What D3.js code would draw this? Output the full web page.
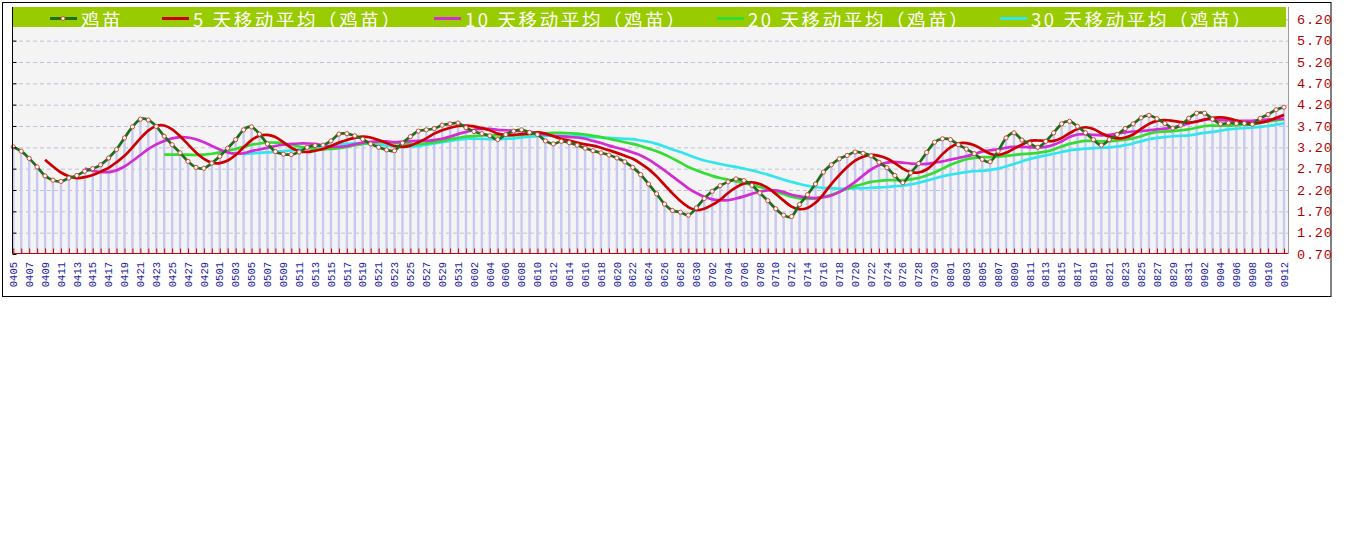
<!DOCTYPE html>
<html><head><meta charset="utf-8">
<script src="https://cdn.jsdelivr.net/npm/d3@7"></script>
<style>html,body{margin:0;padding:0;background:#fff;}svg{display:block;}</style>
</head><body>
<svg id="c" width="1345" height="541"></svg>
<script>
const dates = [
"0405","0406","0407","0408","0409","0410","0411","0412","0413","0414","0415","0416","0417","0418","0419","0420","0421","0422","0423","0424","0425","0426","0427","0428","0429","0430",
"0501","0502","0503","0504","0505","0506","0507","0508","0509","0510","0511","0512","0513","0514","0515","0516","0517","0518","0519","0520","0521","0522","0523","0524","0525","0526","0527","0528","0529","0530","0531",
"0601","0602","0603","0604","0605","0606","0607","0608","0609","0610","0611","0612","0613","0614","0615","0616","0617","0618","0619","0620","0621","0622","0623","0624","0625","0626","0627","0628","0629","0630",
"0701","0702","0703","0704","0705","0706","0707","0708","0709","0710","0711","0712","0713","0714","0715","0716","0717","0718","0719","0720","0721","0722","0723","0724","0725","0726","0727","0728","0729","0730","0731",
"0801","0802","0803","0804","0805","0806","0807","0808","0809","0810","0811","0812","0813","0814","0815","0816","0817","0818","0819","0820","0821","0822","0823","0824","0825","0826","0827","0828","0829","0830","0831",
"0901","0902","0903","0904","0905","0906","0907","0908","0909","0910","0911","0912"];

const price = [
3.21,3.11,2.94,2.74,2.53,2.43,2.40,2.48,2.54,2.64,
2.70,2.79,2.95,3.15,3.42,3.68,3.86,3.84,3.69,3.46,
3.26,3.07,2.87,2.73,2.71,2.83,2.99,3.18,3.38,3.61,
3.68,3.51,3.28,3.10,3.04,3.03,3.09,3.20,3.24,3.25,
3.35,3.51,3.52,3.47,3.39,3.28,3.20,3.14,3.12,3.30,
3.45,3.58,3.61,3.64,3.72,3.75,3.77,3.66,3.57,3.52,
3.47,3.38,3.50,3.58,3.61,3.55,3.50,3.35,3.28,3.34,
3.31,3.25,3.18,3.12,3.07,3.02,2.95,2.86,2.73,2.56,
2.34,2.11,1.87,1.72,1.68,1.61,1.78,2.00,2.17,2.30,
2.39,2.46,2.42,2.31,2.13,1.95,1.76,1.61,1.58,1.86,
2.09,2.34,2.62,2.79,2.93,3.01,3.09,3.06,3.00,2.85,
2.72,2.54,2.37,2.60,2.82,3.08,3.32,3.40,3.38,3.26,
3.16,3.05,2.92,2.86,3.11,3.42,3.54,3.37,3.29,3.20,
3.34,3.54,3.75,3.81,3.69,3.54,3.38,3.25,3.38,3.50,
3.64,3.75,3.89,3.95,3.87,3.76,3.65,3.72,3.88,4.00,
4.00,3.86,3.75,3.77,3.76,3.76,3.74,3.88,3.97,4.08,
4.14];

const ma5 = [
null,null,null,null,2.91,2.75,2.61,2.52,2.48,2.50,
2.55,2.63,2.72,2.85,3.00,3.20,3.41,3.59,3.70,3.71,
3.62,3.46,3.27,3.08,2.93,2.84,2.83,2.89,3.02,3.20,
3.37,3.47,3.49,3.44,3.32,3.19,3.11,3.09,3.12,3.16,
3.23,3.31,3.37,3.42,3.45,3.43,3.37,3.30,3.23,3.21,
3.24,3.32,3.41,3.52,3.60,3.66,3.70,3.71,3.69,3.65,
3.60,3.52,3.49,3.49,3.51,3.52,3.55,3.52,3.46,3.40,
3.36,3.31,3.27,3.24,3.19,3.13,3.07,3.00,2.93,2.82,
2.69,2.52,2.32,2.12,1.94,1.80,1.73,1.76,1.85,1.97,
2.13,2.26,2.35,2.38,2.34,2.25,2.11,1.95,1.81,1.75,
1.78,1.90,2.10,2.34,2.55,2.74,2.89,2.98,3.02,3.00,
2.94,2.83,2.70,2.62,2.61,2.68,2.84,3.04,3.20,3.29,
3.30,3.25,3.15,3.05,3.02,3.07,3.17,3.26,3.35,3.36,
3.35,3.35,3.42,3.53,3.63,3.67,3.63,3.53,3.45,3.41,
3.43,3.50,3.63,3.75,3.82,3.84,3.82,3.79,3.78,3.80,
3.85,3.89,3.90,3.88,3.83,3.78,3.76,3.78,3.82,3.89,
3.96];

const ma10 = [
null,null,null,null,null,null,null,null,null,2.70,
2.65,2.62,2.62,2.66,2.75,2.88,3.02,3.16,3.27,3.35,
3.41,3.44,3.43,3.39,3.32,3.23,3.15,3.08,3.05,3.06,
3.11,3.15,3.19,3.23,3.26,3.28,3.29,3.29,3.28,3.24,
3.21,3.21,3.23,3.27,3.31,3.33,3.34,3.34,3.32,3.33,
3.34,3.35,3.35,3.37,3.40,3.45,3.51,3.56,3.61,3.63,
3.63,3.61,3.60,3.59,3.58,3.56,3.53,3.50,3.47,3.46,
3.44,3.43,3.40,3.35,3.30,3.24,3.19,3.14,3.08,3.01,
2.91,2.79,2.66,2.52,2.38,2.24,2.13,2.04,1.98,1.96,
1.96,2.00,2.05,2.11,2.16,2.19,2.19,2.15,2.09,2.05,
2.02,2.01,2.03,2.07,2.15,2.26,2.39,2.54,2.68,2.78,
2.84,2.86,2.84,2.82,2.81,2.81,2.84,2.87,2.91,2.95,
2.99,3.04,3.10,3.13,3.15,3.19,3.21,3.21,3.20,3.19,
3.21,3.26,3.34,3.44,3.50,3.51,3.49,3.48,3.49,3.52,
3.55,3.57,3.58,3.60,3.62,3.64,3.66,3.71,3.76,3.81,
3.85,3.86,3.84,3.83,3.82,3.82,3.82,3.84,3.85,3.86,
3.87];

const ma20 = [
null,null,null,null,null,null,null,null,null,null,
null,null,null,null,null,null,null,null,null,3.03,
3.03,3.03,3.03,3.02,3.03,3.05,3.08,3.12,3.16,3.21,
3.26,3.29,3.31,3.31,3.29,3.26,3.22,3.19,3.16,3.15,
3.16,3.18,3.21,3.25,3.28,3.31,3.32,3.31,3.30,3.29,
3.27,3.28,3.29,3.32,3.35,3.39,3.42,3.45,3.46,3.48,
3.48,3.48,3.48,3.48,3.49,3.51,3.52,3.53,3.54,3.54,
3.53,3.52,3.50,3.47,3.44,3.40,3.36,3.32,3.28,3.23,
3.17,3.11,3.03,2.94,2.84,2.74,2.66,2.59,2.53,2.48,
2.44,2.40,2.36,2.32,2.27,2.22,2.16,2.10,2.04,2.00,
1.99,2.00,2.04,2.09,2.16,2.23,2.29,2.34,2.39,2.41,
2.43,2.43,2.43,2.45,2.48,2.54,2.61,2.70,2.79,2.86,
2.92,2.95,2.97,2.97,2.98,3.00,3.02,3.04,3.05,3.07,
3.10,3.15,3.22,3.28,3.32,3.35,3.35,3.34,3.34,3.36,
3.38,3.41,3.46,3.52,3.56,3.57,3.58,3.60,3.62,3.66,
3.70,3.71,3.71,3.71,3.72,3.73,3.74,3.78,3.81,3.83,
3.86];

const ma30 = [
null,null,null,null,null,null,null,null,null,null,
null,null,null,null,null,null,null,null,null,null,
null,null,null,null,null,null,null,null,null,3.04,
3.06,3.07,3.08,3.09,3.11,3.13,3.15,3.18,3.20,3.22,
3.24,3.27,3.28,3.30,3.29,3.28,3.26,3.24,3.22,3.21,
3.22,3.23,3.26,3.29,3.32,3.35,3.38,3.40,3.40,3.40,
3.39,3.39,3.40,3.41,3.43,3.45,3.46,3.47,3.47,3.47,
3.47,3.46,3.45,3.44,3.43,3.42,3.41,3.40,3.39,3.36,
3.33,3.28,3.22,3.15,3.09,3.02,2.95,2.89,2.85,2.81,
2.77,2.74,2.70,2.66,2.61,2.56,2.50,2.44,2.39,2.34,
2.30,2.27,2.25,2.24,2.23,2.23,2.24,2.24,2.25,2.26,
2.27,2.29,2.30,2.33,2.37,2.42,2.47,2.52,2.56,2.59,
2.62,2.64,2.65,2.67,2.70,2.75,2.81,2.87,2.93,2.97,
3.01,3.05,3.09,3.13,3.15,3.17,3.18,3.19,3.20,3.22,
3.25,3.29,3.34,3.39,3.42,3.44,3.46,3.47,3.48,3.51,
3.54,3.56,3.59,3.62,3.64,3.65,3.66,3.68,3.70,3.73,
3.76];

const yTicks = [0.70,1.20,1.70,2.20,2.70,3.20,3.70,4.20,4.70,5.20,5.70,6.20];
const legendLabels = ["鸡苗","5 天移动平均（鸡苗）","10 天移动平均（鸡苗）","20 天移动平均（鸡苗）","30 天移动平均（鸡苗）"];

// ---- styles / layout ----
const colors = {price:"#1b6e1b", ma5:"#cc0000", ma10:"#d22cd2", ma20:"#33dd33", ma30:"#33e6ee"};
const plot = {l:12, r:1288, t:7, b:254};

const svg = d3.select("#c");
const x = d3.scalePoint().domain(dates).range([13.3, 1284]);
const y = d3.scaleLinear().domain([0.70, 6.20]).range([254, 19.3]);

// outer frame
svg.append("rect").attr("x",2.5).attr("y",2.5).attr("width",1328.5).attr("height",294)
  .attr("fill","#fff").attr("stroke","#000").attr("stroke-width",1);

// plot background
svg.append("rect").attr("x",plot.l).attr("y",plot.t).attr("width",plot.r-plot.l).attr("height",plot.b-plot.t)
  .attr("fill","#f4f4f4");

// grid lines
const grid = svg.append("g").attr("transform",`translate(${plot.l},0)`)
  .call(d3.axisRight(y).tickValues(yTicks.slice(1)).tickSize(plot.r-plot.l).tickFormat(""));
grid.select(".domain").remove();
grid.selectAll(".tick line").attr("stroke","#c0c0dc").attr("stroke-dasharray","4,3");

// bars
svg.append("g").selectAll("rect").data(price).join("rect")
  .attr("x",(d,i)=>x(dates[i])-1.2).attr("width",2.4)
  .attr("y",d=>y(d)).attr("height",d=>y(0.70)-y(d))
  .attr("fill","#c8c8f0");

// lines
const lineGen = d3.line().defined(d=>d!=null)
  .x((d,i)=>x(dates[i])).y(d=>y(d)).curve(d3.curveCardinal.tension(0));
const series = [
  {data:ma30, c:colors.ma30},
  {data:ma20, c:colors.ma20},
  {data:ma10, c:colors.ma10},
  {data:ma5,  c:colors.ma5},
  {data:price,c:colors.price}
];
series.forEach(s=>{
  svg.append("path").datum(s.data).attr("d",lineGen)
    .attr("fill","none").attr("stroke",s.c).attr("stroke-width",2.7)
    .attr("stroke-linejoin","round");
});
// markers
svg.append("g").selectAll("circle").data(price).join("circle")
  .attr("cx",(d,i)=>x(dates[i])).attr("cy",d=>y(d)).attr("r",2.1)
  .attr("fill","#fff").attr("stroke","#d04a3a").attr("stroke-width",1);

// left axis line + inner ticks
svg.append("line").attr("x1",plot.l+0.5).attr("x2",plot.l+0.5).attr("y1",plot.t).attr("y2",plot.b)
  .attr("stroke","#000");
const la = svg.append("g").attr("transform",`translate(${plot.l+0.5},0)`)
  .call(d3.axisLeft(y).tickValues(yTicks).tickSize(-4).tickSizeOuter(0).tickFormat(""));
la.select(".domain").remove();
la.selectAll(".tick line").attr("stroke","#000");

// right axis
const ra = svg.append("g").attr("transform",`translate(${plot.r},0)`)
  .call(d3.axisRight(y).tickValues(yTicks).tickSize(0).tickPadding(9).tickFormat(d3.format(".2f")));
ra.select(".domain").attr("stroke","#9a9a9a").attr("d",`M0.5,${plot.t}V${plot.b}`);
ra.selectAll("text").attr("fill","#b40000").attr("font-family","'Liberation Mono', monospace")
  .attr("font-size","13.5px").attr("letter-spacing","0.8px");

// bottom axis (red ticks)
const ba = svg.append("g").attr("transform",`translate(0,${plot.b - 0.5})`)
  .call(d3.axisBottom(x).tickSize(-5).tickSizeOuter(0).tickFormat(""));
ba.select(".domain").remove();
ba.selectAll(".tick line").attr("stroke","#cc0000");
svg.append("line").attr("x1",plot.l).attr("x2",plot.r).attr("y1",plot.b-0.5).attr("y2",plot.b-0.5)
  .attr("stroke","#cc0000");

// x labels (every other day)
const labelDates = dates.filter((d,i)=>i%2===0);
svg.append("g").selectAll("text").data(labelDates).join("text")
  .attr("transform",d=>`translate(${x(d)},262) rotate(-90)`)
  .attr("text-anchor","end").attr("dy","0.35em")
  .attr("font-family","'Liberation Mono', monospace").attr("font-size","10.5px")
  .attr("fill","#1c1ca0").text(d=>d);

// legend band
svg.append("rect").attr("x",plot.l+1).attr("y",plot.t).attr("width",1273).attr("height",20)
  .attr("fill","#99cc00");
const legX = [50,162,434,717,1000];
const legC = [colors.price, colors.ma5, colors.ma10, colors.ma20, colors.ma30];
legendLabels.forEach((t,i)=>{
  svg.append("line").attr("x1",legX[i]).attr("x2",legX[i]+27).attr("y1",18.5).attr("y2",18.5)
    .attr("stroke",legC[i]).attr("stroke-width",3);
  if(i===0){
    svg.append("circle").attr("cx",legX[i]+13).attr("cy",18.5).attr("r",2)
      .attr("fill","#ffd")
      .attr("stroke","#d04a3a").attr("stroke-width",1);
  }
  svg.append("text").attr("x",legX[i]+31).attr("y",18.5).attr("dominant-baseline","central")
    .attr("font-family","'Noto Sans CJK SC', sans-serif").attr("font-size","18.5px")
    .attr("letter-spacing","2.6px").attr("fill","#fff").text(t);
});
</script>
</body></html>
